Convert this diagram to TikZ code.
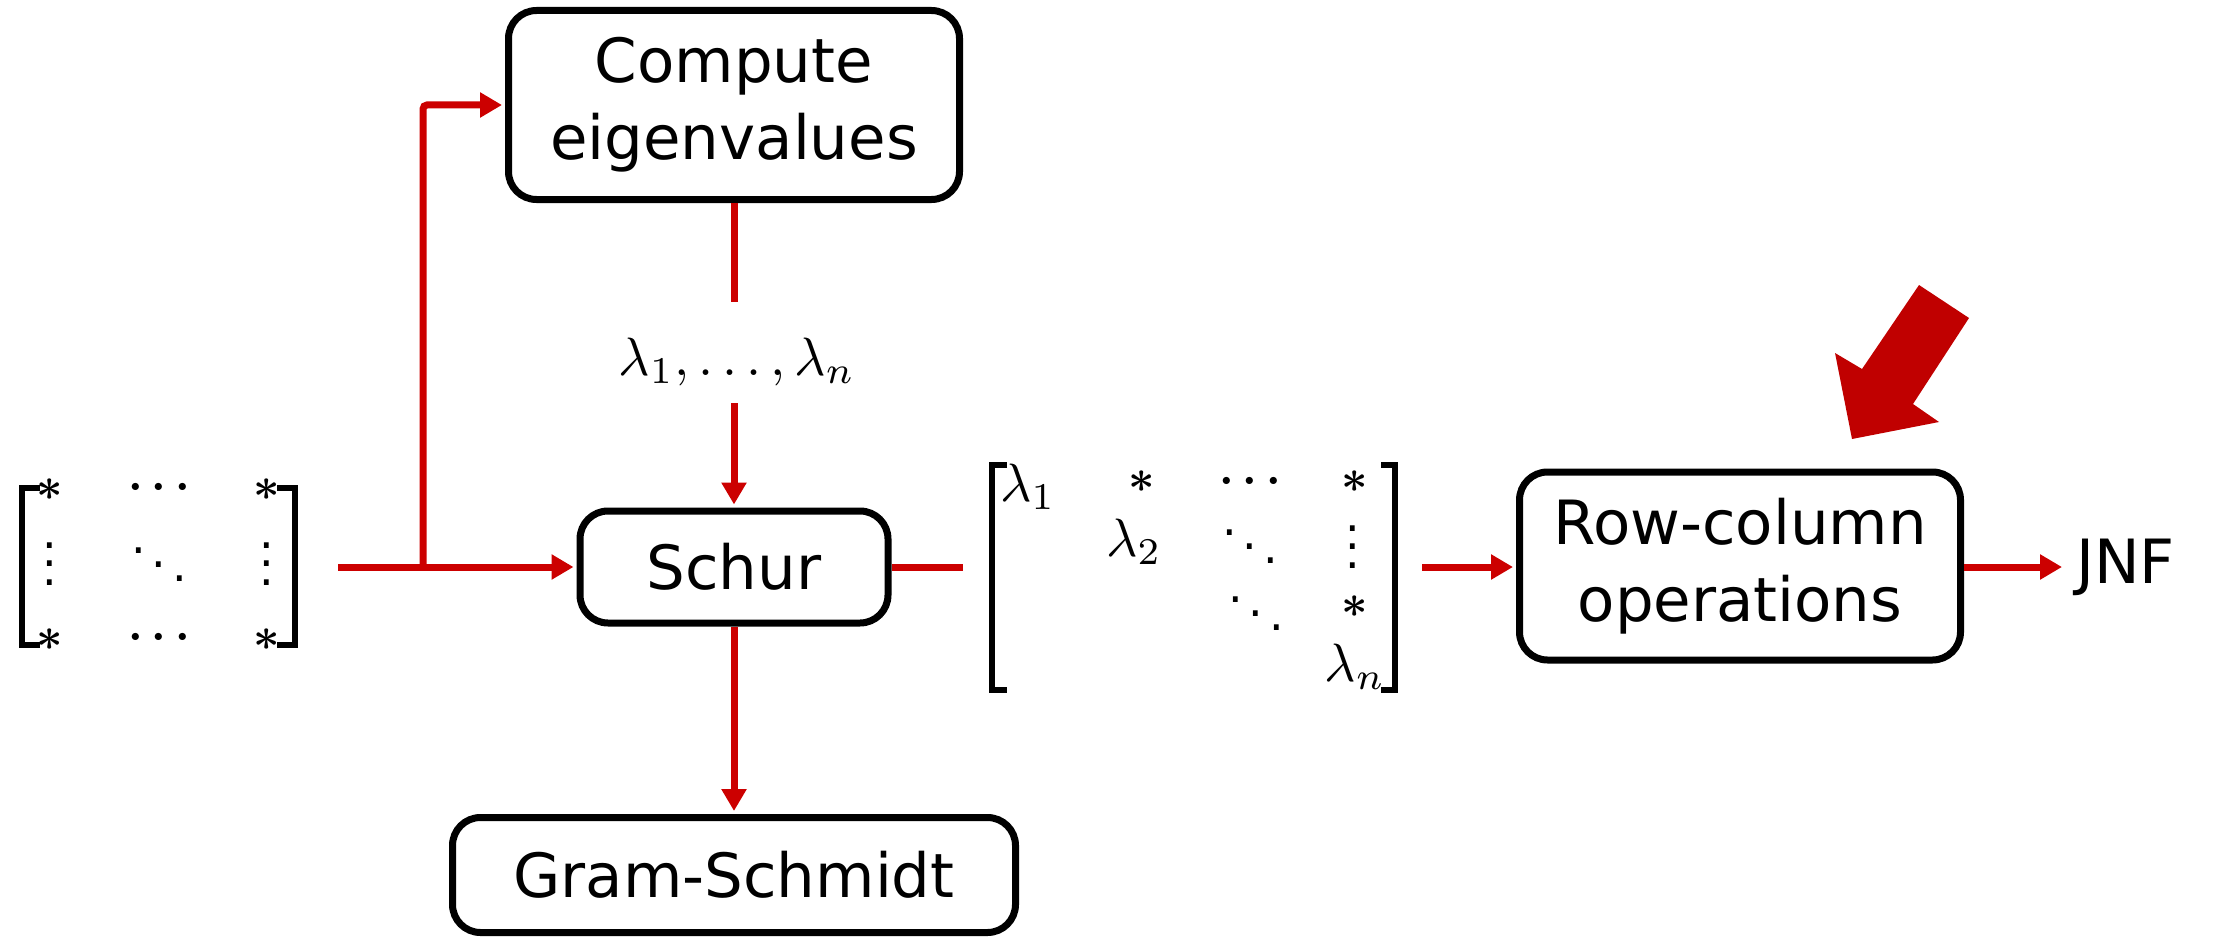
\RequirePackage{fix-cm}
\documentclass[tikz,border=0pt]{standalone}
\usepackage[no-math]{fontspec}
\setmainfont{DejaVu Sans}
\usetikzlibrary{arrows.meta}
\definecolor{lred}{HTML}{CC0000}
\definecolor{bigred}{HTML}{C00000}
\newcommand\msym[1]{\scalebox{4.6}{\boldmath$#1$}}
\newcommand\mlam[1]{\scalebox{5.4}{$#1$}}
\tikzset{
  box/.style={draw=black, line width=7pt, rounded corners=28pt, fill=white, align=center,
    font=\fontsize{61}{77}\selectfont, inner sep=0pt},
  flow/.style={draw=lred, line width=7pt, -{Triangle[length=22pt,width=24pt]}},
  plainline/.style={draw=lred, line width=7pt},
  ent/.style={inner sep=0pt},
  brk/.style={draw=black, line width=5.5pt},
}
\begin{document}
\begin{tikzpicture}[x=1pt,y=-1pt]
\useasboundingbox (0,0) rectangle (2216,939);

% boxes
\node[box, minimum width=451pt, minimum height=189pt] (comp) at (734,105) {Compute\\eigenvalues};
\node[box, minimum width=308pt, minimum height=112pt] (schur) at (734,567) {Schur};
\node[box, minimum width=563pt, minimum height=115pt] (gram) at (734,875) {Gram-Schmidt};
\node[box, minimum width=441pt, minimum height=188pt] (row) at (1740,566) {Row-column\\operations};
\node[inner xsep=14pt, inner ysep=0pt, anchor=west, font=\fontsize{61}{77}\selectfont] (jnf) at (2062,567) {JNF};

% eigenvalue label
\node[inner sep=0pt] (lam) at (737,362) {\scalebox{5.4}{$\lambda_1,\ldots,\lambda_n$}};

% left matrix
\draw[brk] (40,488) -- (22,488) -- (22,645) -- (40,645);
\draw[brk] (277,488) -- (295,488) -- (295,645) -- (277,645);
\node[ent] (a11) at (50,490) {\msym{\ast}};
\node[ent] (a12) at (159,488) {\msym{\cdots}};
\node[ent] (a13) at (267,490) {\msym{\ast}};
\node[ent] (a21) at (50,550) {\msym{\vdots}};
\node[ent] (a22) at (159,551) {\msym{\ddots}};
\node[ent] (a23) at (267,550) {\msym{\vdots}};
\node[ent] (a31) at (50,640) {\msym{\ast}};
\node[ent] (a32) at (159,638) {\msym{\cdots}};
\node[ent] (a33) at (267,640) {\msym{\ast}};

% right matrix
\draw[brk] (1007,465) -- (992,465) -- (992,690) -- (1007,690);
\draw[brk] (1381,465) -- (1395,465) -- (1395,690) -- (1381,690);
\node[ent] (b11) at (1028,487) {\mlam{\lambda_1}};
\node[ent] (b12) at (1142,482) {\msym{\ast}};
\node[ent] (b13) at (1250,482) {\msym{\cdots}};
\node[ent] (b14) at (1355,482) {\msym{\ast}};
\node[ent] (b22) at (1134,542) {\mlam{\lambda_2}};
\node[ent] (b23) at (1250,533) {\msym{\ddots}};
\node[ent] (b24) at (1353,533) {\msym{\vdots}};
\node[ent] (b33) at (1256,600) {\msym{\ddots}};
\node[ent] (b34) at (1355,607) {\msym{\ast}};
\node[ent] (b44) at (1355,667) {\mlam{\lambda_n}};

% connectors
\coordinate (in) at (338,567);
\coordinate (br) at (423,567);
\coordinate (c1) at (734,302);
\coordinate (c2) at (734,403);
\coordinate (s2) at (963,567);
\coordinate (m2) at (1422,567);

\draw[flow, shorten >=3pt] (in) -- (schur.west);
\draw[flow, rounded corners=4pt, shorten >=3pt] (br) |- (comp.west);
\draw[plainline] (comp.south) -- (c1);
\draw[flow, shorten >=3pt] (c2) -- (schur.north);
\draw[plainline] (schur.east) -- (s2);
\draw[flow, shorten >=3pt] (schur.south) -- (gram.north);
\draw[flow, shorten >=3pt] (m2) -- (row.west |- m2);
\draw[flow] (row.east |- m2) -- (jnf.west);

% big arrow
\fill[bigred] (1919,285) -- (1969,318) -- (1913,404) -- (1939,422) -- (1852,439)
  -- (1835,353) -- (1862,369) -- cycle;
\end{tikzpicture}
\end{document}
